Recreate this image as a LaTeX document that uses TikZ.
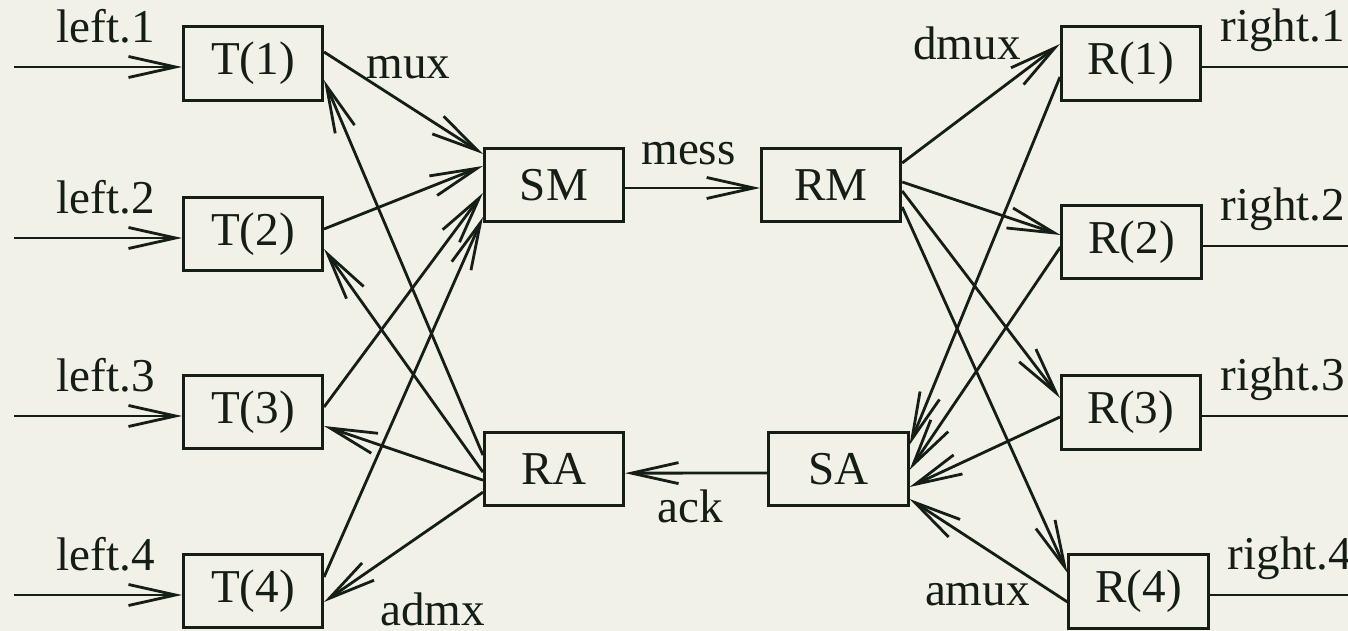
\documentclass[tikz,border=0pt]{standalone}
\usepackage{fontspec}
\setmainfont{Liberation Serif}
\usepackage{tikz}
\usetikzlibrary{arrows.meta}
\definecolor{paper}{RGB}{241,241,231}
\definecolor{ink}{RGB}{20,30,22}
\tikzset{
    proc/.style={
           rectangle,
           draw=ink, line width=0.85pt,
           minimum width=1.39cm,
           minimum height=0.73cm,
           inner sep=0pt,
           text centered,
           },
    lbl/.style={
           inner sep=0pt,
           },
}

\begin{document}
\begin{tikzpicture}[x=0.01cm, y=-0.01cm,
    color=ink, line width=0.8pt,
    >={Straight Barb[length=4.7mm,width=2.1mm]},
    every node/.style={font=\fontsize{13.4}{16}\selectfont}]
    \fill[paper] (0,0) rectangle (1348,631);
    \useasboundingbox (0,0) rectangle (1348,631);

    % Transmitters on the left
    \node[proc] (T1) at (253,63.5) {T(1)};
    \node[proc] (T2) at (253,234) {T(2)};
    \node[proc] (T3) at (253,412) {T(3)};
    \node[proc] (T4) at (253,591) {T(4)};

    % Sender / receiver of messages and acks
    \node[proc] (SM) at (554,185) {SM};
    \node[proc,       % box layout (defined above)
    below of=SM,
    node distance=2.84cm,
    anchor=center] (RA) {RA};
    \node[proc,
    right of=SM,
    node distance=2.77cm,
    anchor=center] (RM) {RM};
    \node[proc] (SA) at (838.5,469) {SA};

    % Receivers on the right
    \node[proc] (R1) at (1131,63.5) {R(1)};
    \node[proc] (R2) at (1131.5,242) {R(2)};
    \node[proc] (R3) at (1131,412.5) {R(3)};
    \node[proc] (R4) at (1138.5,591.5) {R(4)};

    % free ends of the outside lines
    \coordinate (l1) at (14,67);
    \coordinate (l2) at (14,238);
    \coordinate (l3) at (14,416);
    \coordinate (l4) at (14,595);
    \coordinate (r1) at (1348,67);
    \coordinate (r2) at (1348,246);
    \coordinate (r3) at (1348,416);
    \coordinate (r4) at (1348,595);

    % inputs and outputs
    \path
        (l1) edge[->] node[lbl, pos=0, anchor=base west, xshift=0.41cm, yshift=0.24cm] {left.1} (l1 -| T1.west)
        (l2) edge[->] node[lbl, pos=0, anchor=base west, xshift=0.41cm, yshift=0.24cm] {left.2} (l2 -| T2.west)
        (l3) edge[->] node[lbl, pos=0, anchor=base west, xshift=0.41cm, yshift=0.24cm] {left.3} (l3 -| T3.west)
        (l4) edge[->] node[lbl, pos=0, anchor=base west, xshift=0.41cm, yshift=0.24cm] {left.4} (l4 -| T4.west)
        (R1.east |- r1) edge node[lbl, pos=0, anchor=base west, xshift=0.17cm, yshift=0.25cm] {right.1} (r1)
        (R2.east |- r2) edge node[lbl, pos=0, anchor=base west, xshift=0.17cm, yshift=0.25cm] {right.2} (r2)
        (R3.east |- r3) edge node[lbl, pos=0, anchor=base west, xshift=0.17cm, yshift=0.25cm] {right.3} (r3)
        (R4.east |- r4) edge node[lbl, pos=0, anchor=base west, xshift=0.17cm, yshift=0.25cm] {right.4} (r4);

    % multiplexing into SM, acks fanned back out from RA
    \path
        ([yshift=0.115cm]T1.east) edge[->] node[lbl, pos=0.26, anchor=base west] {mux} ([yshift=0.31cm]SM.west)
        ([yshift=0.05cm]T2.east)  edge[->] ([yshift=0.19cm]SM.west)
        ([yshift=0.05cm]T3.east)  edge[->] ([yshift=-0.08cm]SM.west)
        ([yshift=0.14cm]T4.east)  edge[->] ([yshift=-0.32cm]SM.west)
        ([yshift=0.14cm]RA.west)  edge[->] ([yshift=-0.165cm]T1.east)
        ([yshift=-0.03cm]RA.west) edge[->] ([yshift=-0.15cm]T2.east)
        ([yshift=-0.11cm]RA.west) edge[->] ([yshift=-0.14cm]T3.east)
        ([yshift=-0.23cm]RA.west) edge[->]
            node[lbl, pos=0.654, anchor=base west, yshift=-0.61cm] {admx}
        ([yshift=-0.11cm]T4.east);

    % message and ack channels
    \path
        ([yshift=-0.03cm]SM.east) edge[->]
            node[lbl, pos=0.47, anchor=base, yshift=0.23cm] {mess}
        ([yshift=-0.03cm]RM.west)
        ([yshift=-0.04cm]SA.west) edge[->]
            node[lbl, pos=0.54, anchor=base, yshift=-0.49cm] {ack}
        ([yshift=-0.04cm]RA.east);

    % demultiplexing out of RM, acks collected into SA
    \path
        ([yshift=0.22cm]RM.east)  edge[->]
            node[lbl, pos=0.76, anchor=base east, yshift=0.13cm] {dmux}
        ([yshift=0.195cm]R1.west)
        ([yshift=0.03cm]RM.east)  edge[->] ([yshift=0.07cm]R2.west)
        ([yshift=-0.06cm]RM.east) edge[->] ([yshift=0.145cm]R3.west)
        ([yshift=-0.22cm]RM.east) edge[->] ([yshift=0.185cm]R4.west)
        ([yshift=-0.135cm]R1.west) edge[->] ([yshift=0.24cm]SA.east)
        ([yshift=-0.05cm]R2.west)  edge[->] ([yshift=-0.01cm]SA.east)
        ([yshift=-0.045cm]R3.west) edge[->] ([yshift=-0.18cm]SA.east)
        ([yshift=-0.105cm]R4.west) edge[->]
            node[lbl, pos=0.23, anchor=base east, yshift=-0.27cm] {amux}
        ([yshift=-0.30cm]SA.east);
\end{tikzpicture}
\end{document}
